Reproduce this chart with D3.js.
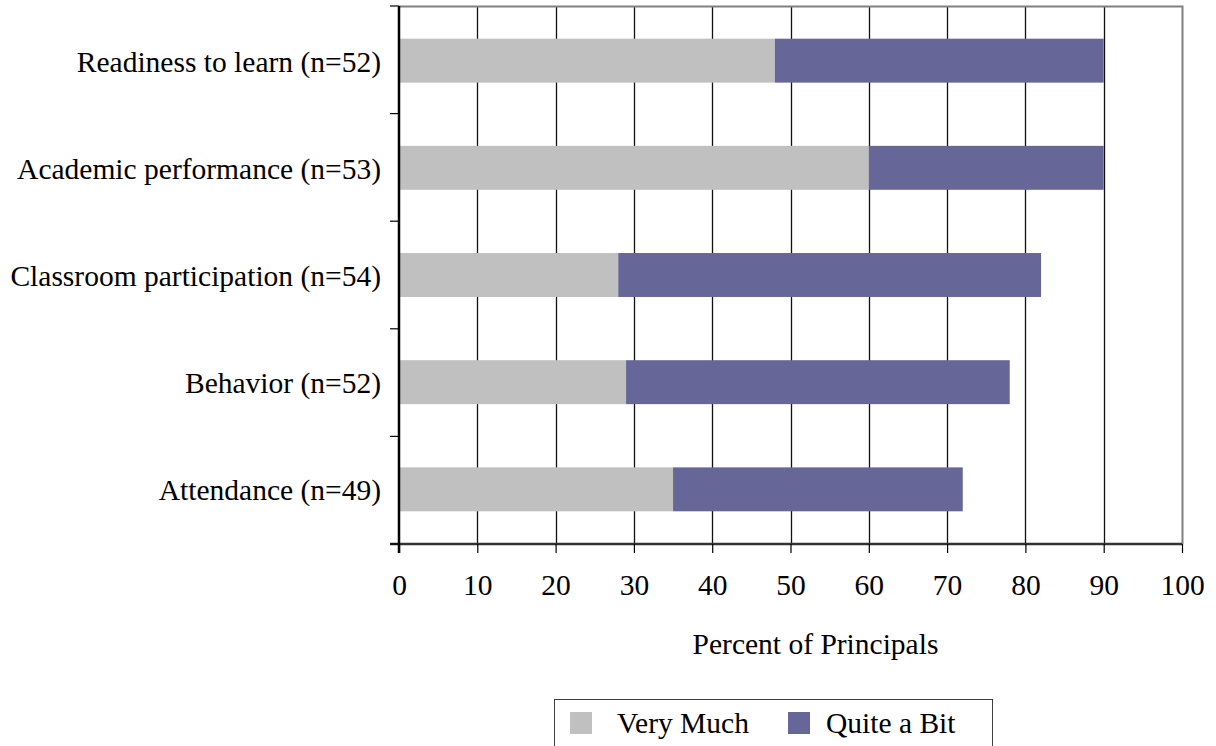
<!DOCTYPE html>
<html>
<head>
<meta charset="utf-8">
<script src="https://cdn.jsdelivr.net/npm/d3@7"></script>
<style>
  html, body { margin: 0; padding: 0; background: #fff; }
  svg { display: block; font-family: "Liberation Serif", "Times New Roman", serif; }
</style>
</head>
<body>
<svg id="chart" width="1216" height="746"></svg>
<script>
// Survey results: share of principals reporting improvement, by area
const categories = [
  "Readiness to learn (n=52)",
  "Academic performance (n=53)",
  "Classroom participation (n=54)",
  "Behavior (n=52)",
  "Attendance (n=49)"
];
const veryMuch = [48, 60, 28, 29, 35];
const quiteABit = [42, 30, 54, 49, 37];
const seriesNames = ["Very Much", "Quite a Bit"];
const seriesColors = ["#C0C0C0", "#666699"];
const xTicks = [0, 10, 20, 30, 40, 50, 60, 70, 80, 90, 100];
const xTitle = "Percent of Principals";

const FONT = 29.5;
const svg = d3.select("#chart");
const margin = { left: 399, right: 1182, top: 6, bottom: 544 };

const x = d3.scaleLinear().domain([0, 100]).range([margin.left, margin.right]);
const y = d3.scaleBand().domain(categories).range([margin.top, margin.bottom]).paddingInner(0.59).paddingOuter(0.305);

const rows = categories.map((c, i) => ({ cat: c, vals: [veryMuch[i], quiteABit[i]] }));
const stacked = d3.stack().keys([0, 1]).value((d, k) => d.vals[k])(rows);

// vertical gridlines
svg.append("g").selectAll("line").data(xTicks.slice(1, -1)).join("line")
  .attr("x1", d => Math.round(x(d)) + 0.5).attr("x2", d => Math.round(x(d)) + 0.5)
  .attr("y1", margin.top).attr("y2", margin.bottom)
  .attr("stroke", "#111").attr("stroke-width", 1.3);

// plot frame top and right
svg.append("path")
  .attr("d", `M${margin.left},${margin.top + 0.5}H${margin.right + 0.5}V${margin.bottom}`)
  .attr("fill", "none").attr("stroke", "#808080").attr("stroke-width", 2);

// stacked bars
svg.append("g").selectAll("g").data(stacked).join("g")
  .attr("fill", (d, i) => seriesColors[i])
  .selectAll("rect").data(d => d).join("rect")
  .attr("x", d => x(d[0]))
  .attr("width", d => x(d[1]) - x(d[0]))
  .attr("y", d => y(d.data.cat))
  .attr("height", y.bandwidth());

// x axis
const xAxis = d3.axisBottom(x).tickValues(xTicks).tickSize(9).tickPadding(0).tickSizeOuter(0);
const gx = svg.append("g").attr("transform", `translate(0,${margin.bottom})`).call(xAxis);
gx.select(".domain").attr("stroke", "#333").attr("stroke-width", 2.5).attr("d", `M${margin.left - 9},0H${margin.right}`);
gx.selectAll(".tick line").attr("stroke", "#000").attr("stroke-width", 1.2);
gx.selectAll(".tick text").attr("font-size", FONT).attr("fill", "#000")
  .attr("font-family", "Liberation Serif, Times New Roman, serif")
  .attr("y", 51).attr("dy", null);

// y axis with tick marks between categories
const boundaries = d3.range(categories.length + 1).map(i => margin.top + i * (margin.bottom - margin.top) / categories.length);
const gy = svg.append("g");
gy.append("line").attr("x1", margin.left).attr("x2", margin.left)
  .attr("y1", margin.top).attr("y2", margin.bottom + 9)
  .attr("stroke", "#000").attr("stroke-width", 2.5);
gy.selectAll("line.tk").data(boundaries).join("line").attr("class", "tk")
  .attr("x1", margin.left - 9).attr("x2", margin.left)
  .attr("y1", d => d).attr("y2", d => d)
  .attr("stroke", "#000").attr("stroke-width", 1.2);
gy.selectAll("text").data(categories).join("text")
  .attr("x", 381).attr("y", d => y(d) + y.bandwidth() / 2 + 11)
  .attr("text-anchor", "end")
  .attr("font-size", FONT).attr("fill", "#000").text(d => d);

// axis title
svg.append("text").attr("x", (margin.left + margin.right) / 2 + 25).attr("y", 654)
  .attr("text-anchor", "middle").attr("font-size", FONT).text(xTitle);

// legend
const lg = svg.append("g");
lg.append("rect").attr("x", 554.5).attr("y", 699.5).attr("width", 438).attr("height", 60)
  .attr("fill", "#fff").attr("stroke", "#404040").attr("stroke-width", 1);
const legendX = [570, 788];
const legendTextX = [617, 826];
seriesNames.forEach((name, i) => {
  lg.append("rect").attr("x", legendX[i]).attr("y", 712).attr("width", 22).attr("height", 22).attr("fill", seriesColors[i]);
  lg.append("text").attr("x", legendTextX[i]).attr("y", 733)
    .attr("font-size", FONT).text(name);
});
</script>
</body>
</html>
